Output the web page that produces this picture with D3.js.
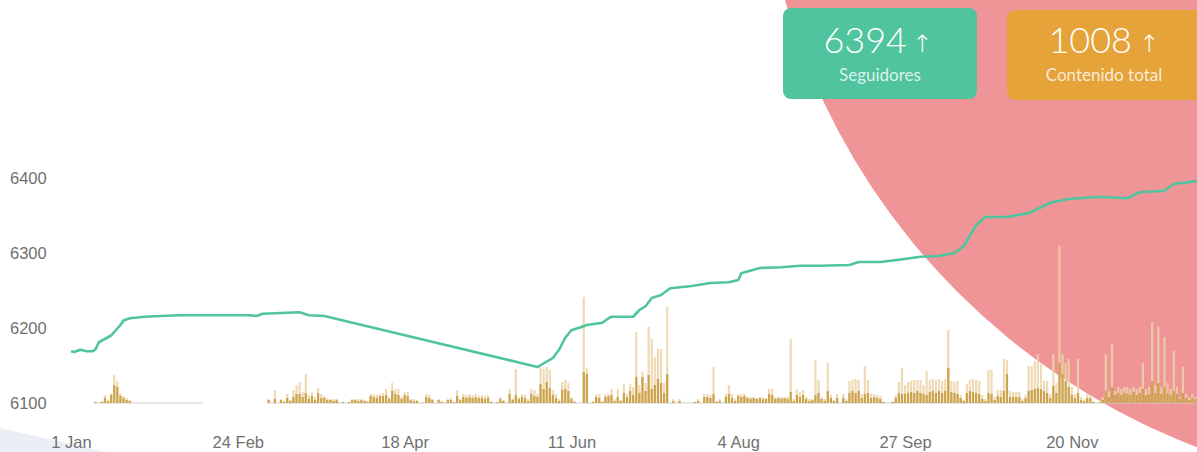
<!DOCTYPE html>
<html>
<head>
<meta charset="utf-8">
<script src="https://cdn.jsdelivr.net/npm/d3@7/dist/d3.min.js"></script>
<style>
  body { margin: 0; background: #fff; overflow: hidden; }
  svg { display: block; }
  .axis text { font-family: "Liberation Sans", Arial, sans-serif; font-size: 16.5px; fill: #717171; }
  .card-num { font-family: Lato, "Open Sans", sans-serif; fill: #fff; font-weight: 300; }
  .card-lbl { font-family: Lato, "Open Sans", sans-serif; fill: #fff; fill-opacity: 0.8; }
</style>
</head>
<body>
<div id="plot"></div>
<script>
// data (2024, day offsets from 1 Jan)
var yearStart = "2024-01-01"

// followers line
var followerDays = [0, 1, 3, 5, 7, 8, 9, 13, 16, 17, 19, 24, 29, 35, 42, 48, 58, 60, 62, 68, 74, 77, 82,
  151, 156, 158, 160, 162, 165, 167, 172, 174, 175, 182, 184, 186, 188, 191, 194, 201, 207, 213, 216, 217,
  223, 230, 236, 242, 252, 255, 262, 268, 275, 281, 286, 289, 293, 296, 303, 310, 317, 323, 333, 342,
  346, 354, 357, 365]
var followerValues = [6169, 6168, 6171, 6169, 6169, 6172, 6181, 6190, 6204, 6210, 6213, 6215, 6216, 6217, 6217, 6217, 6217, 6216, 6219, 6220, 6221, 6217, 6216,
  6148, 6160, 6171, 6187, 6197, 6201, 6204, 6207, 6213, 6215, 6215, 6224, 6229, 6240, 6244, 6253, 6256, 6260, 6261, 6264, 6273,
  6280, 6281, 6283, 6283, 6284, 6288, 6288, 6291, 6295, 6296, 6300, 6309, 6337, 6348, 6348, 6353, 6367, 6372, 6375, 6373,
  6381, 6383, 6392, 6396]

// content per day: total (light bars) and main part (dark bars), null = no data
var contentTotal = [
  null, null, null, null, null, null, null, null,
  1, 0, 2, 8, 3, 10, 28, 22, 10, 7, 5, 3,
  0, 0, 0, 0, 0, 0, 0, 0, 0, 0, 0, 0, 0, 0, 0, 0, 0, 0, 0, 0, 0, 0, 0,
  null, null, null, null, null, null, null, null, null, null, null, null, null, null, null, null, null, null, null, null, null,
  4, 0, 13, 0, 4, 2, 9, 3, 13, 18,
  21, 11, 29, 8, 11, 6, 15, 9, 7, 5,
  4, 4, 4, 0, 1, 0, 1, 4, 4, 4,
  4, 3, 2, 9, 9, 8, 9, 10, 14, 6,
  20, 14, 14, 6, 11, 11, 4, 4, 3, 0,
  1, 9, 8, 4, 0, 4, 2, 0, 4, 5,
  1, 13, 4, 9, 8, 9, 8, 9, 7, 8,
  7, 8, 2, 0, 1, 6, 3, 0, 14, 5,
  34, 6, 9, 8, 4, 14, 13, 9, 36, 34,
  36, 33, 13, 9, 4, 21, 23, 20, 6, 2,
  0, 0, 106, 35, 0, 2, 9, 9, 2, 9,
  9, 14, 4, 14, 3, 19, 9, 19, 16, 71,
  18, 31, 20, 76, 64, 46, 54, 54, 20, 96,
  0, 4, 0, 4, 0, 0, 0, 0, 1, 4,
  0, 9, 9, 8, 36, 2, 4, 0, 9, 18,
  9, 4, 9, 9, 9, 6, 6, 6, 5, 6,
  6, 5, 14, 14, 6, 6, 6, 6, 6, 64,
  4, 14, 11, 13, 6, 4, 4, 43, 23, 6,
  4, 40, 8, 3, 9, 0, 9, 4, 22, 23,
  24, 23, 9, 37, 23, 9, 9, 8, 7, 2,
  0, 0, 2, 8, 21, 35, 18, 21, 22, 23,
  23, 23, 18, 32, 23, 24, 23, 24, 22, 24,
  73, 22, 21, 22, 8, 3, 19, 23, 24, 23,
  22, 8, 4, 33, 33, 6, 13, 13, 44, 43,
  12, 11, 11, 11, 4, 8, 37, 37, 42, 49,
  39, 22, 22, 9, 49, 20, 157, 49, 40, 44,
  16, 9, 44, 6, 4, 9, 8, 2, 0, 1,
  6, 49, 12, 59, 12, 16, 14, 16, 16, 14,
  16, 14, 16, 40, 14, 16, 81, 18, 76, 16,
  66, 20, 14, 52, 16, 6, 36, 9, 6, 9, 6, 5
]
var contentMain = [
  null, null, null, null, null, null, null, null,
  1, 0, 1, 5, 2, 8, 18, 16, 7, 5, 3, 2,
  0, 0, 0, 0, 0, 0, 0, 0, 0, 0, 0, 0, 0, 0, 0, 0, 0, 0, 0, 0, 0, 0, 0,
  null, null, null, null, null, null, null, null, null, null, null, null, null, null, null, null, null, null, null, null, null,
  3, 0, 4, 0, 3, 1, 5, 2, 6, 9,
  9, 6, 10, 4, 7, 3, 10, 5, 5, 3,
  3, 2, 3, 0, 1, 0, 1, 3, 3, 2,
  3, 2, 1, 7, 6, 5, 7, 7, 8, 4,
  12, 9, 8, 4, 8, 7, 3, 2, 2, 0,
  0, 6, 5, 3, 0, 3, 1, 0, 3, 3,
  1, 7, 3, 6, 5, 6, 5, 6, 5, 5,
  4, 5, 1, 0, 1, 4, 2, 0, 9, 3,
  8, 4, 6, 5, 2, 9, 7, 6, 19, 14,
  21, 15, 8, 5, 2, 13, 14, 12, 4, 1,
  0, 0, 31, 29, 0, 1, 6, 5, 1, 6,
  7, 8, 2, 6, 2, 10, 6, 12, 8, 26,
  10, 26, 12, 28, 14, 18, 24, 20, 10, 29,
  0, 2, 0, 2, 0, 0, 0, 0, 1, 2,
  0, 6, 6, 5, 9, 1, 2, 0, 6, 9,
  5, 2, 7, 6, 7, 5, 4, 5, 4, 5,
  4, 4, 9, 8, 4, 5, 4, 5, 4, 11,
  2, 8, 6, 8, 4, 2, 3, 8, 10, 4,
  2, 12, 5, 2, 5, 0, 5, 2, 10, 12,
  10, 12, 5, 9, 10, 5, 6, 5, 4, 1,
  0, 0, 1, 5, 10, 9, 9, 10, 11, 10,
  12, 10, 9, 8, 11, 12, 10, 12, 10, 12,
  35, 11, 10, 9, 5, 2, 10, 12, 11, 10,
  9, 4, 2, 10, 9, 3, 7, 6, 12, 29,
  6, 6, 6, 6, 2, 5, 12, 13, 14, 15,
  14, 12, 10, 5, 17, 10, 40, 29, 22, 16,
  8, 5, 10, 3, 2, 5, 5, 1, 0, 1,
  3, 12, 6, 16, 8, 10, 8, 10, 9, 8,
  11, 8, 10, 14, 8, 9, 22, 10, 20, 9,
  16, 10, 8, 12, 9, 4, 10, 5, 3, 5, 4, 3
]

var yTicks = [6100, 6200, 6300, 6400]
var xTickDays = [0, 54, 108, 162, 216, 270, 324]

var cardValues = ["6394", "1008"]
var cardLabels = ["Seguidores", "Contenido total"]

// colours
var green = "#4fc49e"
var orange = "#e5a339"
var pink = "#ef9598"

var svgWidth = 1197
var svgHeight = 452

var svg = d3.select("#plot")
  .append("svg")
  .attr("width", svgWidth)
  .attr("height", svgHeight)

// background shapes
svg.append("circle")
  .attr("cx", 1440)
  .attr("cy", -190)
  .attr("r", 682)
  .attr("fill", pink)

svg.append("polygon")
  .attr("points", "0,428 105,452 0,452")
  .attr("fill", "#eceef6")

// scales
var t0 = new Date(yearStart + "T00:00:00Z")
var dayDate = d => d3.utcDay.offset(t0, d)

var xScale = d3.scaleUtc()
  .domain([t0, dayDate(365)])
  .range([71, 71 + 365 * 3.089])

var yScale = d3.scaleLinear()
  .domain([6100, 6400])
  .range([403, 178])

var barScale = d3.scaleLinear()
  .domain([0, 160])
  .range([403, 243])

// baseline under the bars where there is data
var runs = []
contentTotal.forEach((v, i) => {
  if (v === null) return
  var last = runs[runs.length - 1]
  if (last && last[1] === i - 1) last[1] = i
  else runs.push([i, i])
})
svg.append("g").selectAll("line")
  .data(runs)
  .enter()
  .append("line")
  .attr("x1", d => xScale(dayDate(d[0])) - 2)
  .attr("x2", d => xScale(dayDate(d[1])) + 2)
  .attr("y1", barScale(0))
  .attr("y2", barScale(0))
  .attr("stroke", "#cdcdcd")
  .attr("stroke-width", 1.2)

var totalBars = contentTotal.map((v, i) => ({ day: i, v: v })).filter(d => d.v)
var mainBars = contentMain.map((v, i) => ({ day: i, v: v })).filter(d => d.v)

svg.append("g").selectAll("rect")
  .data(totalBars)
  .enter()
  .append("rect")
  .attr("x", d => xScale(dayDate(d.day)) - 1.1)
  .attr("width", 2.2)
  .attr("y", d => barScale(d.v))
  .attr("height", d => barScale(0) - barScale(d.v))
  .attr("fill", "#ebd4a8")
  .attr("opacity", 0.85)

svg.append("g").selectAll("rect")
  .data(mainBars)
  .enter()
  .append("rect")
  .attr("x", d => xScale(dayDate(d.day)) - 1.1)
  .attr("width", 2.2)
  .attr("y", d => barScale(d.v))
  .attr("height", d => barScale(0) - barScale(d.v))
  .attr("fill", "#cca34c")

// followers line
var line = d3.line()
  .x((d, i) => xScale(dayDate(followerDays[i])))
  .y(d => yScale(d))

svg.append("path")
  .datum(followerValues)
  .attr("d", line)
  .attr("fill", "none")
  .attr("stroke", green)
  .attr("stroke-width", 2.6)
  .attr("stroke-linejoin", "round")

// axes
var yAxis = svg.append("g")
  .attr("class", "axis")
  .attr("transform", "translate(10,0)")
  .call(d3.axisRight(yScale).tickValues(yTicks).tickSize(0).tickPadding(0).tickFormat(d3.format("d")))
yAxis.select(".domain").remove()

var xAxis = svg.append("g")
  .attr("class", "axis")
  .attr("transform", "translate(0,403)")
  .call(d3.axisBottom(xScale).tickValues(xTickDays.map(dayDate)).tickSize(0).tickPadding(33).tickFormat(d3.utcFormat("%-d %b")))
xAxis.select(".domain").remove()

// stat cards
var cards = [
  { x: 783, y: 8, w: 194, h: 91, c: green, cx: 880, numEnd: 907, arrow: 922 },
  { x: 1007, y: 10, w: 200, h: 90, c: orange, cx: 1104, numEnd: 1132, arrow: 1149 }
]

cards.forEach((c, i) => {
  svg.append("rect")
    .attr("x", c.x).attr("y", c.y)
    .attr("width", c.w).attr("height", c.h)
    .attr("rx", 8)
    .attr("fill", c.c)

  svg.append("text")
    .attr("class", "card-num")
    .attr("x", c.numEnd).attr("y", 53)
    .attr("text-anchor", "end")
    .style("font-size", "36px")
    .text(cardValues[i])

  svg.append("text")
    .attr("class", "card-num")
    .attr("x", c.arrow).attr("y", 52)
    .attr("text-anchor", "middle")
    .style("font-family", "'DejaVu Sans', sans-serif")
    .style("font-size", "24px")
    .text("\u2191")

  svg.append("text")
    .attr("class", "card-lbl")
    .attr("x", c.cx).attr("y", 81)
    .attr("text-anchor", "middle")
    .style("font-size", "17px")
    .text(cardLabels[i])
})
</script>
</body>
</html>
